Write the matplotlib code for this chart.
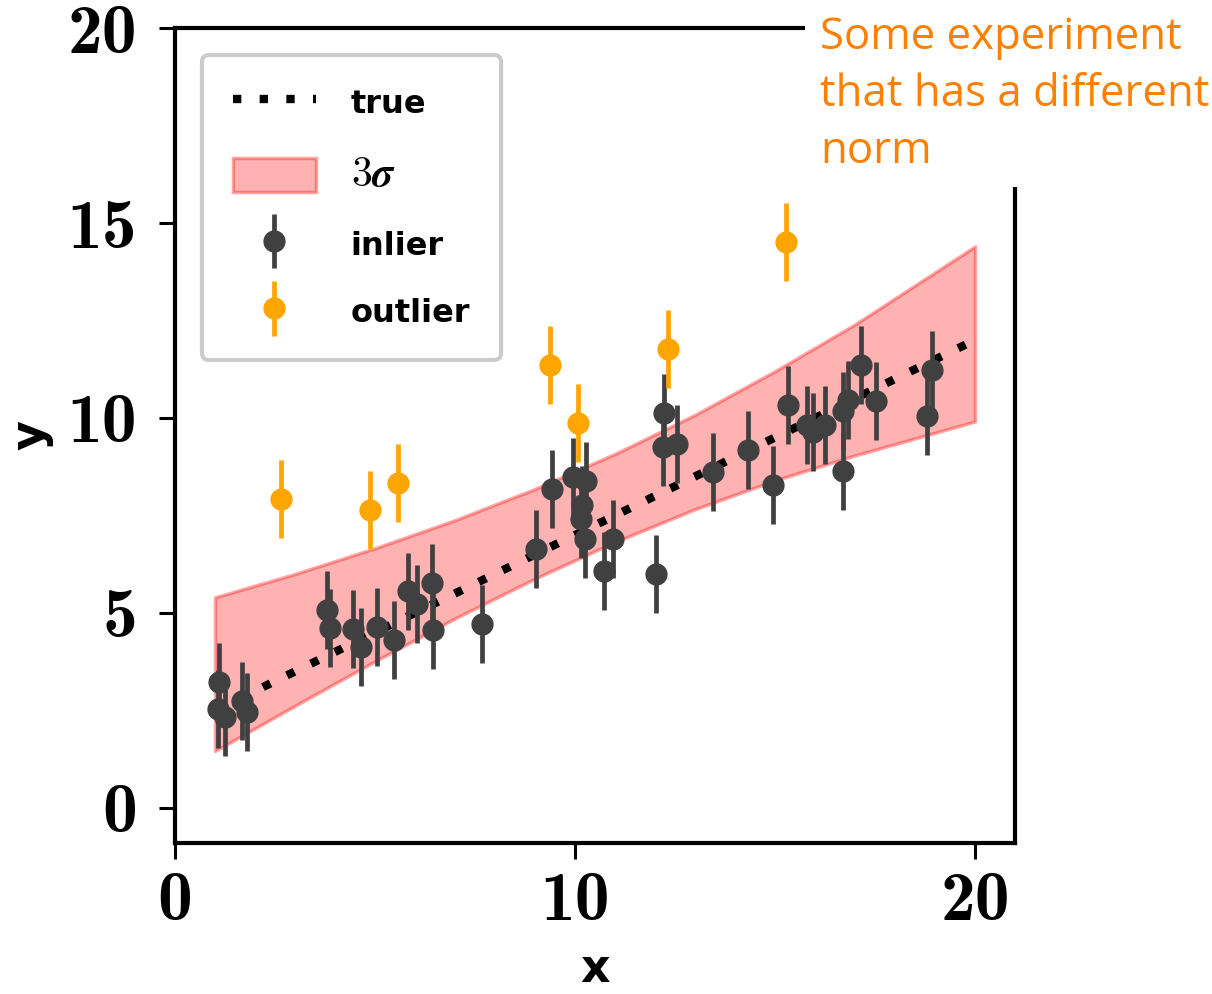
import matplotlib
matplotlib.use("Agg")
import matplotlib.pyplot as plt
from matplotlib.legend_handler import HandlerErrorbar
from matplotlib.lines import Line2D
from matplotlib.patches import Patch, Rectangle

plt.rcParams["mathtext.fontset"] = "cm"

# inlier points (x, y, symmetric error)
inlier_x = [1.08, 1.11, 1.25, 1.67, 1.81, 3.79, 3.88, 4.46, 4.64, 5.06, 5.48,
            5.83, 6.06, 6.42, 6.46, 7.67, 9.02, 9.42, 9.96, 10.28, 10.17,
            10.15, 10.25, 10.96, 10.73, 12.03, 12.23, 12.21, 12.54, 13.44,
            14.33, 14.94, 15.33, 15.79, 15.96, 16.25, 16.69, 16.71, 16.83,
            17.15, 17.52, 18.79, 18.92]
inlier_y = [2.53, 3.23, 2.32, 2.75, 2.45, 5.08, 4.61, 4.59, 4.13, 4.63, 4.31,
            5.55, 5.23, 5.78, 4.57, 4.71, 6.64, 8.18, 8.48, 8.39, 7.78,
            7.41, 6.90, 6.90, 6.08, 6.00, 10.12, 9.25, 9.32, 8.61,
            9.17, 8.28, 10.34, 9.81, 9.64, 9.81, 8.65, 10.19, 10.45,
            11.37, 10.43, 10.06, 11.24]
inlier_err = 1.0

# outlier points
outlier_x = [2.65, 4.88, 5.58, 9.38, 10.08, 12.33, 15.28]
outlier_y = [7.93, 7.65, 8.34, 11.37, 9.86, 11.78, 14.51]
outlier_err = 1.0

# true relation (endpoints)
true_x = [1.0, 20.0]
true_y = [2.5, 12.0]

# 3 sigma band
band_x = [1, 3, 5, 7, 9, 11, 13, 15, 17, 20]
band_lo = [1.46, 2.62, 3.76, 4.86, 5.88, 6.82, 7.66, 8.40, 9.04, 9.91]
band_hi = [5.40, 6.00, 6.66, 7.38, 8.18, 9.08, 10.08, 11.20, 12.40, 14.40]

xticks = [0, 10, 20]
yticks = [0, 5, 10, 15, 20]

note = "Some experiment\nthat has a different\nnorm"

INLIER_C = "#404040"
OUTLIER_C = "#FFA500"
BAND_FACE = (1, 0, 0, 0.3)
BAND_EDGE = (1, 0, 0, 0.35)

fig = plt.figure(figsize=(12.12, 9.94), dpi=100)
ax = fig.add_axes([0.1444, 0.1519, 0.8375 - 0.1444, 0.9718 - 0.1519])

ax.fill_between(band_x, band_lo, band_hi, facecolor=BAND_FACE,
                edgecolor=BAND_EDGE, linewidth=2.5, zorder=1)
ax.plot(true_x, true_y, color="black", linewidth=6, dashes=(1, 2.2),
        dash_capstyle="butt", zorder=2)
eb_in = ax.errorbar(inlier_x, inlier_y, yerr=inlier_err, fmt="o",
                    color=INLIER_C, markersize=15, elinewidth=3.4, capsize=0,
                    zorder=3)
eb_out = ax.errorbar(outlier_x, outlier_y, yerr=outlier_err, fmt="o",
                     color=OUTLIER_C, markersize=15, elinewidth=3.4, capsize=0,
                     zorder=3)

ax.set_xlim(0, 21)
ax.set_ylim(-0.9, 20)
ax.set_xticks(xticks, labels=[str(t) for t in xticks])
ax.set_yticks(yticks, labels=[str(t) for t in yticks])
ax.tick_params(axis="both", labelsize=50, length=11.5, width=2.2,
               direction="out")
ax.tick_params(axis="y", pad=16)
ax.tick_params(axis="x", pad=9)
for lab in ax.get_xticklabels() + ax.get_yticklabels():
    lab.set_family("cmb10")
for s in ax.spines.values():
    s.set_linewidth(3)
ax.set_xlabel("x", fontsize=33, fontweight="bold", labelpad=9)
ax.set_ylabel("y", fontsize=33, fontweight="bold", labelpad=10)

handles = [
    Line2D([], [], color="black", linewidth=6, dashes=(1, 2.2),
           dash_capstyle="butt"),
    Patch(facecolor=BAND_FACE, edgecolor=BAND_EDGE, linewidth=2.5),
    eb_in,
    eb_out,
]
leg = ax.legend(handles, ["true", r"$\boldsymbol{3\sigma}$", "inlier", "outlier"],
                loc="upper left", prop={"size": 23, "weight": "bold"},
                borderaxespad=0.85, borderpad=0.95, labelspacing=1.02,
                handlelength=2.6, handleheight=1.25, handletextpad=1.1,
                fancybox=True, framealpha=1,
                handler_map={eb_in: HandlerErrorbar(yerr_size=0.85),
                             eb_out: HandlerErrorbar(yerr_size=0.85)})
leg.get_frame().set_edgecolor("#cccccc")
leg.get_frame().set_linewidth(3)
leg.get_texts()[1].set_fontsize(30)

# white patch that hides the top-right corner of the frame
fig.add_artist(Rectangle((805 / 1212, 1 - 187 / 994), 1 - 805 / 1212, 187 / 994,
                         transform=fig.transFigure, facecolor="white",
                         edgecolor="none", zorder=10))
fig.text(820 / 1212, 1 - 16 / 994, note, color="#FF8000", fontsize=31.5,
         family="Open Sans", va="top", ha="left", linespacing=1.36, zorder=11)

fig.savefig("out.png", dpi=100)
